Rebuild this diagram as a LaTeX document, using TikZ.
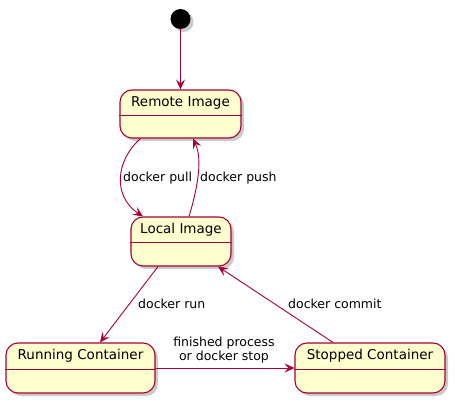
\documentclass[tikz,border=0pt]{standalone}
\usepackage{fontspec}
\setmainfont{DejaVu Sans}
\usetikzlibrary{arrows.meta,shadows}
\definecolor{umlred}{HTML}{A80036}
\definecolor{umlfill}{HTML}{FEFECE}
\tikzset{
  statebox/.style={draw=umlred, fill=umlfill, line width=1.1pt, rounded corners=12pt,
    drop shadow={shadow xshift=3pt, shadow yshift=-3pt, opacity=0.35, fill=black!60}},
  divider/.style={draw=umlred, line width=1pt},
  title/.style={font=\fontsize{13.5}{15}\selectfont, text=black},
  trans/.style={draw=umlred, line width=0.9pt, -{Stealth[length=10pt,width=9pt,inset=4pt]}},
  lbl/.style={font=\fontsize{12.5}{14.5}\selectfont, text=black, inner sep=0pt}
}
\begin{document}
\begin{tikzpicture}[x=1pt,y=-1pt]
\useasboundingbox (0,0) rectangle (455,403);
% start
\node[circle, fill=black, minimum size=20pt, inner sep=0pt,
  drop shadow={shadow xshift=3pt, shadow yshift=-3pt, opacity=0.35, fill=black!60}] (start) at (180.5,19) {};
% states
\node[statebox, minimum width=121pt, minimum height=48pt, inner sep=0pt] (remote) at (180.5,114) {};
\draw[divider] (remote.west |- 0,116) -- (remote.east |- 0,116);
\node[title] (remoteT) at (180.5,103) {Remote Image};

\node[statebox, minimum width=100pt, minimum height=49pt, inner sep=0pt] (local) at (181,241.5) {};
\draw[divider] (local.west |- 0,243) -- (local.east |- 0,243);
\node[title] (localT) at (181,230) {Local Image};

\node[statebox, minimum width=149pt, minimum height=50pt, inner sep=0pt] (running) at (80.5,368) {};
\draw[divider] (running.west |- 0,369) -- (running.east |- 0,369);
\node[title] (runningT) at (80.5,356) {Running Container};

\node[statebox, minimum width=150pt, minimum height=50pt, inner sep=0pt] (stopped) at (370,368) {};
\draw[divider] (stopped.west |- 0,369) -- (stopped.east |- 0,369);
\node[title] (stoppedT) at (370,356) {Stopped Container};

% transitions
\draw[trans] (start) -- (remote);
\draw[trans] ([xshift=-40pt]remote.south) .. controls (116,160) and (112,196) .. ([xshift=-38pt]local.north);
\draw[trans] ([xshift=8pt]local.north) .. controls (197,190) and (203,160) .. ([xshift=12.5pt]remote.south);
\draw[trans] ([xshift=-23pt]local.south) -- ([xshift=19.5pt]running.north);
\draw[trans] ([xshift=-37pt]stopped.north) -- ([xshift=37pt]local.south);
\draw[trans] (running.east |- 0,368) -- (stopped.west |- 0,368);

% labels
\node[lbl, anchor=west] (lpull) at (123,178) {docker pull};
\node[lbl, anchor=west] (lpush) at (200,178) {docker push};
\node[lbl, anchor=west] (lrun) at (138,304) {docker run};
\node[lbl, anchor=west] (lcommit) at (288,304) {docker commit};
\node[lbl, align=center] (lstop) at (224,350) {finished process\\or docker stop};
\end{tikzpicture}
\end{document}
